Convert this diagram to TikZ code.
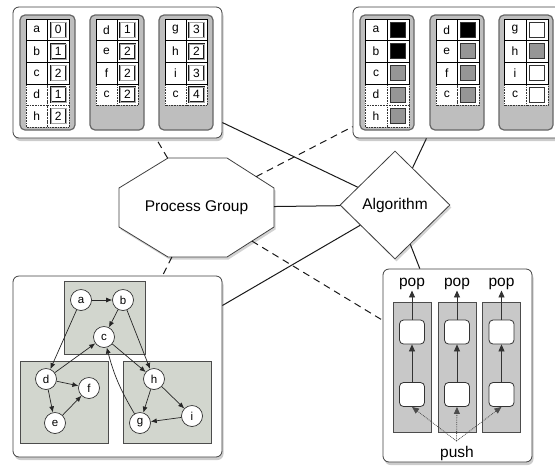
\documentclass[tikz,border=0pt]{standalone}
\usepackage{fontspec}
\setmainfont{Liberation Sans}
\usetikzlibrary{shapes.geometric,arrows.meta,shadows,intersections}
\definecolor{panelgray}{RGB}{190,190,190}
\definecolor{colgray}{RGB}{200,200,200}
\definecolor{sage}{RGB}{210,214,206}
\definecolor{midgray}{RGB}{150,150,150}
\newcommand\numtable[4]{%
  \foreach \l/\v/\r/\s in {#4}{%
    \pgfmathsetmacro\ya{19+21.6*\r}%
    \pgfmathsetmacro\yb{\ya+21.6}%
    \pgfmathsetmacro\yc{\ya+10.8}%
    \draw[tcell,\s] (#1,\ya) rectangle (#2,\yb);
    \draw[tcell,\s] (#2,\ya) rectangle (#3,\yb);
    \node[lettxt] (L#1r\r) at ({(#1+#2)/2},\yc) {\l};
    \node[numbox] (N#1r\r) at ({(#2+#3)/2},\yc) {\v};
  }}
\newcommand\coltable[4]{%
  \foreach \l/\v/\r/\s in {#4}{%
    \pgfmathsetmacro\ya{19+21.6*\r}%
    \pgfmathsetmacro\yb{\ya+21.6}%
    \pgfmathsetmacro\yc{\ya+10.8}%
    \draw[tcell,\s] (#1,\ya) rectangle (#2,\yb);
    \draw[tcell,\s] (#2,\ya) rectangle (#3,\yb);
    \node[lettxt] (L#1r\r) at ({(#1+#2)/2},\yc) {\l};
    \node[colbox,fill=\v] (N#1r\r) at ({(#2+#3)/2},\yc) {};
  }}
\begin{document}
\begin{tikzpicture}[x=1pt,y=-1pt,
  bigbox/.style={draw=black!75, line width=0.8pt, fill=white, rounded corners=6pt, inner sep=0pt,
    drop shadow={shadow xshift=1.5pt, shadow yshift=-3pt, opacity=0.4}},
  tpanel/.style={draw=black!60, line width=1.2pt, fill=panelgray, rounded corners=5pt},
  tcell/.style={draw=black, line width=0.6pt, fill=white},
  real/.style={},
  ghost/.style={densely dotted, draw=black!80},
  lettxt/.style={inner sep=0pt, font=\fontsize{12}{14}\selectfont},
  numbox/.style={draw=black!90, line width=0.45pt, double=black!35, double distance=0.5pt, fill=white,
    minimum size=15pt, inner sep=0pt, font=\fontsize{12}{14}\selectfont},
  colbox/.style={draw=black!80, line width=0.9pt, minimum size=15pt, inner sep=0pt},
  sagebox/.style={draw=black!70, line width=0.6pt, fill=sage},
  gnode/.style={circle, draw=black!80, line width=0.7pt, fill=white, minimum size=21pt, inner sep=0pt,
    font=\fontsize{11.5}{13}\selectfont},
  gedge/.style={draw=black!85, line width=0.7pt, -{Latex[length=6pt,width=5pt]}},
  stackcol/.style={draw=black!70, line width=0.7pt, fill=colgray, minimum width=38pt, minimum height=130pt, inner sep=0pt},
  slot/.style={draw=black!80, line width=0.8pt, fill=white, rounded corners=4pt, minimum width=25pt, minimum height=24pt, inner sep=0pt},
  bigtxt/.style={font=\fontsize{15.5}{18}\selectfont},
  parr/.style={draw=black!80, line width=0.8pt, -{Triangle[length=7pt,width=6pt]}},
  pusharr/.style={draw=black!70, line width=0.8pt, densely dotted, -{Triangle[length=7pt,width=6pt]}},
  conn/.style={draw=black!90, line width=1pt},
  dconn/.style={draw=black!90, line width=1pt, dash pattern=on 7pt off 5pt},
  shp/.style={draw=black!75, line width=0.8pt, fill=white, drop shadow={shadow xshift=1.5pt, shadow yshift=-2.5pt, opacity=0.35}}
]
\useasboundingbox (0,0) rectangle (555,467);

% ---------- top-left box ----------
\node[bigbox, minimum width=209pt, minimum height=131pt] (tl) at (117.5,72.5) {};
\draw[tpanel] (20,15) rectangle (75,130);
\draw[tpanel] (90,15) rectangle (144,130);
\draw[tpanel] (159,15) rectangle (213,130);
\numtable{26}{47.5}{69}{d/1/3/ghost, h/2/4/ghost, a/0/0/real, b/1/1/real, c/2/2/real}
\numtable{96}{117}{138}{c/2/3/ghost, d/1/0/real, e/2/1/real, f/2/2/real}
\numtable{165}{186}{207}{c/4/3/ghost, g/3/0/real, h/2/1/real, i/3/2/real}

% ---------- top-right box ----------
\node[bigbox, minimum width=209pt, minimum height=131pt] (tr) at (457.5,72.5) {};
\draw[tpanel] (360,15) rectangle (414,130);
\draw[tpanel] (430,15) rectangle (484,130);
\draw[tpanel] (499,15) rectangle (553,130);
\coltable{365}{387}{409}{d/midgray/3/ghost, h/midgray/4/ghost, a/black/0/real, b/black/1/real, c/midgray/2/real}
\coltable{436}{457.5}{479}{c/midgray/3/ghost, d/black/0/real, e/midgray/1/real, f/midgray/2/real}
\coltable{504}{526}{548}{c/white/3/ghost, g/white/0/real, h/midgray/1/real, i/white/2/real}

% ---------- bottom-left box (graph) ----------
\node[bigbox, minimum width=209pt, minimum height=181pt] (bl) at (117.5,366.5) {};
\draw[sagebox] (64,281) rectangle (145,354);
\draw[sagebox] (20,361) rectangle (108,443);
\draw[sagebox] (123,361) rectangle (211,443);
\node[gnode] (ga) at (81,300) {a};
\node[gnode] (gb) at (123,300) {b};
\node[gnode] (gc) at (104,337) {c};
\node[gnode] (gd) at (46,379) {d};
\node[gnode] (gf) at (89,388) {f};
\node[gnode] (ge) at (55,423) {e};
\node[gnode] (gh) at (154,379) {h};
\node[gnode] (gi) at (192,416) {i};
\node[gnode] (gg) at (140,423) {g};
\draw[gedge] (ga) -- (gb);
\draw[gedge] (gb) -- (gc);
\draw[gedge] (ga) -- (gd);
\draw[gedge] (gd) -- (gc);
\draw[gedge] (gd) -- (gf);
\draw[gedge] (gd) -- (ge);
\draw[gedge] (ge) -- (gf);
\draw[gedge] (gb) -- (gh);
\draw[gedge] (gc) -- (gh);
\draw[gedge] (gh) -- (gg);
\draw[gedge] (gh) -- (gi);
\draw[gedge] (gi) -- (gg);
\draw[gedge] (gg) to[bend left=8] (gc);

% ---------- bottom-right box (stacks) ----------
\node[bigbox, minimum width=149pt, minimum height=193pt] (br) at (457.5,365.5) {};
\foreach \cx/\i in {412/1, 457/2, 501.5/3}{
  \node[stackcol] (col\i) at (\cx,367) {};
  \node[slot] (ub\i) at (\cx,332) {};
  \node[slot] (lb\i) at (\cx,394.5) {};
  \node[bigtxt, inner sep=1pt] (pop\i) at (\cx,283.5) {pop};
  \draw[parr] (lb\i) -- (ub\i);
  \draw[parr] (ub\i) -- (pop\i);
}
\node[bigtxt, inner sep=1pt] (push) at (457,453) {push};
\coordinate (pushtop) at (456.5,441);
\foreach \i in {1,2,3}{
  \draw[pusharr] (pushtop) -- (lb\i.south);
}

% ---------- central shapes ----------
\draw[shp, name path=oct] (168,158) -- (227,158) -- (274,188) -- (274,227) -- (227,257) -- (168,257) -- (119,227) -- (119,188) -- cycle;
\node[bigtxt] (pg) at (196.5,207.5) {Process Group};
\node[diamond, shp, minimum width=110pt, minimum height=108pt, inner sep=0pt, bigtxt] (alg) at (395,205) {Algorithm};

% ---------- connectors ----------
\foreach \t in {tl,tr,bl,br,alg}{
  \path[name path=L\t] (pg.center) -- (\t.center);
  \path[name intersections={of=oct and L\t, by=o\t}];
}
\draw[dconn] (otl) -- (tl);
\draw[dconn] (otr) -- (tr);
\draw[dconn] (obl) -- (bl);
\draw[dconn] (obr) -- (br);
\draw[conn] (oalg) -- (alg);
\draw[conn] (alg) -- (tl);
\draw[conn] (alg) -- (tr);
\draw[conn] (alg) -- (bl);
\draw[conn] (alg) -- (br);
\end{tikzpicture}
\end{document}
